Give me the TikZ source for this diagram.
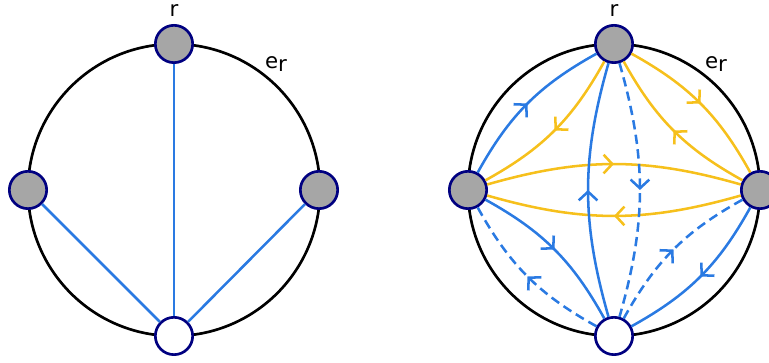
\documentclass[tikz,border=0pt]{standalone}
\usepackage{fontspec}
\setmainfont{DejaVu Sans}
\usepackage{xcolor}
\usepackage{tikz}
\usetikzlibrary{arrows.meta,decorations.markings}

\definecolor{edgeblue}{RGB}{42,122,226}
\definecolor{edgeyellow}{RGB}{246,192,28}
\definecolor{vertexnavy}{RGB}{0,0,128}
\definecolor{vertexgray}{RGB}{166,166,166}

\begin{document}
\begin{tikzpicture}[
    x=0.75pt,y=0.75pt,
    ring/.style={draw=black,line width=2pt},
    vertex/.style={circle,draw=vertexnavy,fill=vertexgray,line width=2pt,
      minimum size=28pt,inner sep=0pt},
    hole/.style={vertex,fill=white},
    label/.style={font=\fontsize{16pt}{19pt}\selectfont},
    link/.style={draw=edgeblue,line width=1.9pt},
    midtip/.style={postaction={decorate},decoration={markings,
      mark=at position 0.5 with {\arrow[line width=1.9pt]{Straight Barb[length=6.5pt,width=14pt]}}}},
    blueflow/.style={link,midtip},
    dashflow/.style={link,midtip,dash pattern=on 7pt off 4pt},
    goldflow/.style={draw=edgeyellow,line width=1.9pt,midtip}
  ]
    \useasboundingbox (0,0) rectangle (769,363);

    % left graph
    \draw[ring] (174,173) circle (146);
    \node[vertex] (lt) at (174,319) {};
    \node[vertex] (ll) at (28,173) {};
    \node[vertex] (lr) at (319,173) {};
    \node[hole] (lb) at (174,27) {};
    \node[label] (lroot) at (174,352) {r};
    \node[label] (ledge) at (276,299) {e\raisebox{-2.5pt}{r}};
    \draw[link] (lt) -- (lb);
    \draw[link] (ll) -- (lb);
    \draw[link] (lr) -- (lb);

    % right graph
    \draw[ring] (614,173) circle (146);
    \node[vertex] (rt) at (614,319) {};
    \node[vertex] (rl) at (468,173) {};
    \node[vertex] (rr) at (760,173) {};
    \node[hole] (rb) at (614,27) {};
    \node[label] (rroot) at (614,352) {r};
    \node[label] (redge) at (716,299) {e\raisebox{-2.5pt}{r}};
    \draw[blueflow] (rl) to[bend left=16] (rt);
    \draw[goldflow] (rt) to[bend left=16] (rl);
    \draw[goldflow] (rt) to[bend left=16] (rr);
    \draw[goldflow] (rr) to[bend left=16] (rt);
    \draw[goldflow] (rl) to[bend left=16] (rr);
    \draw[goldflow] (rr) to[bend left=16] (rl);
    \draw[blueflow] (rb) to[bend left=16] (rt);
    \draw[dashflow] (rt) to[bend left=16] (rb);
    \draw[blueflow] (rl) to[bend left=16] (rb);
    \draw[dashflow] (rb) to[bend left=16] (rl);
    \draw[dashflow] (rb) to[bend left=16] (rr);
    \draw[blueflow] (rr) to[bend left=16] (rb);
  \end{tikzpicture}
\end{document}
